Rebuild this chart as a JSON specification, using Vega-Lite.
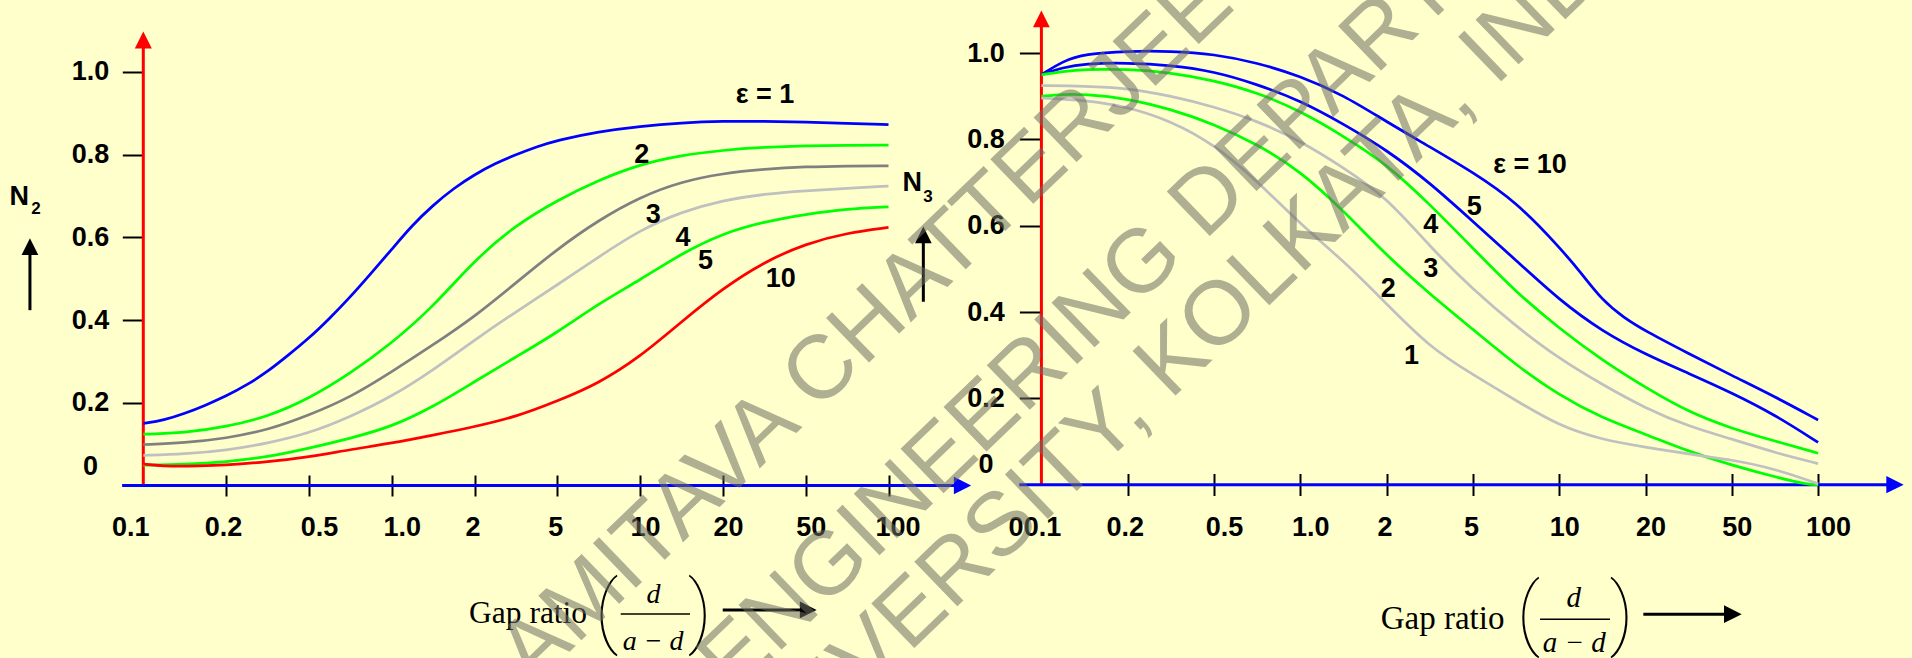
{
  "$schema": "https://vega.github.io/schema/vega-lite/v6.json",
  "width": 1912,
  "height": 658,
  "autosize": {"type": "none"},
  "padding": 0,
  "background": "#FFFFCC",
  "config": {"view": {"stroke": null}, "text": {"font": "Liberation Sans"}},
  "data": {"values": [{}]},
  "datasets": {
    "n2": [
      {"eps":"1","pos":0,"N2":0.150},{"eps":"1","pos":0.25,"N2":0.158},{"eps":"1","pos":0.5,"N2":0.174},{"eps":"1","pos":0.75,"N2":0.194},{"eps":"1","pos":1,"N2":0.216},{"eps":"1","pos":1.25,"N2":0.243},{"eps":"1","pos":1.5,"N2":0.275},{"eps":"1","pos":1.75,"N2":0.315},{"eps":"1","pos":2,"N2":0.356},{"eps":"1","pos":2.25,"N2":0.404},{"eps":"1","pos":2.5,"N2":0.456},{"eps":"1","pos":2.75,"N2":0.513},{"eps":"1","pos":3,"N2":0.571},{"eps":"1","pos":3.25,"N2":0.630},{"eps":"1","pos":3.5,"N2":0.678},{"eps":"1","pos":3.75,"N2":0.719},{"eps":"1","pos":4,"N2":0.752},{"eps":"1","pos":4.25,"N2":0.779},{"eps":"1","pos":4.5,"N2":0.800},{"eps":"1","pos":4.75,"N2":0.819},{"eps":"1","pos":5,"N2":0.835},{"eps":"1","pos":5.5,"N2":0.856},{"eps":"1","pos":6,"N2":0.869},{"eps":"1","pos":6.5,"N2":0.877},{"eps":"1","pos":7,"N2":0.881},{"eps":"1","pos":7.5,"N2":0.881},{"eps":"1","pos":8,"N2":0.879},{"eps":"1","pos":8.5,"N2":0.876},{"eps":"1","pos":9,"N2":0.873},
      {"eps":"2","pos":0,"N2":0.124},{"eps":"2","pos":0.5,"N2":0.127},{"eps":"2","pos":1,"N2":0.142},{"eps":"2","pos":1.5,"N2":0.166},{"eps":"2","pos":2,"N2":0.210},{"eps":"2","pos":2.5,"N2":0.271},{"eps":"2","pos":3,"N2":0.344},{"eps":"2","pos":3.5,"N2":0.432},{"eps":"2","pos":4,"N2":0.545},{"eps":"2","pos":4.5,"N2":0.630},{"eps":"2","pos":5,"N2":0.690},{"eps":"2","pos":5.5,"N2":0.739},{"eps":"2","pos":6,"N2":0.777},{"eps":"2","pos":6.5,"N2":0.799},{"eps":"2","pos":7,"N2":0.811},{"eps":"2","pos":7.5,"N2":0.818},{"eps":"2","pos":8,"N2":0.822},{"eps":"2","pos":8.5,"N2":0.823},{"eps":"2","pos":9,"N2":0.823},
      {"eps":"3","pos":0,"N2":0.099},{"eps":"3","pos":0.5,"N2":0.103},{"eps":"3","pos":1,"N2":0.114},{"eps":"3","pos":1.5,"N2":0.134},{"eps":"3","pos":2,"N2":0.170},{"eps":"3","pos":2.5,"N2":0.213},{"eps":"3","pos":3,"N2":0.275},{"eps":"3","pos":3.5,"N2":0.340},{"eps":"3","pos":4,"N2":0.408},{"eps":"3","pos":4.5,"N2":0.490},{"eps":"3","pos":5,"N2":0.572},{"eps":"3","pos":5.5,"N2":0.642},{"eps":"3","pos":6,"N2":0.698},{"eps":"3","pos":6.5,"N2":0.735},{"eps":"3","pos":7,"N2":0.755},{"eps":"3","pos":7.5,"N2":0.765},{"eps":"3","pos":8,"N2":0.771},{"eps":"3","pos":8.5,"N2":0.773},{"eps":"3","pos":9,"N2":0.773},
      {"eps":"4","pos":0,"N2":0.073},{"eps":"4","pos":0.5,"N2":0.076},{"eps":"4","pos":1,"N2":0.085},{"eps":"4","pos":1.5,"N2":0.102},{"eps":"4","pos":2,"N2":0.126},{"eps":"4","pos":2.5,"N2":0.166},{"eps":"4","pos":3,"N2":0.215},{"eps":"4","pos":3.5,"N2":0.279},{"eps":"4","pos":4,"N2":0.352},{"eps":"4","pos":4.5,"N2":0.420},{"eps":"4","pos":5,"N2":0.485},{"eps":"4","pos":5.5,"N2":0.553},{"eps":"4","pos":6,"N2":0.618},{"eps":"4","pos":6.5,"N2":0.662},{"eps":"4","pos":7,"N2":0.690},{"eps":"4","pos":7.5,"N2":0.705},{"eps":"4","pos":8,"N2":0.713},{"eps":"4","pos":8.5,"N2":0.719},{"eps":"4","pos":9,"N2":0.724},
      {"eps":"5","pos":0,"N2":0.049},{"eps":"5","pos":0.5,"N2":0.051},{"eps":"5","pos":1,"N2":0.057},{"eps":"5","pos":1.5,"N2":0.069},{"eps":"5","pos":2,"N2":0.090},{"eps":"5","pos":2.5,"N2":0.114},{"eps":"5","pos":3,"N2":0.142},{"eps":"5","pos":3.5,"N2":0.190},{"eps":"5","pos":4,"N2":0.251},{"eps":"5","pos":4.5,"N2":0.311},{"eps":"5","pos":5,"N2":0.370},{"eps":"5","pos":5.5,"N2":0.440},{"eps":"5","pos":6,"N2":0.497},{"eps":"5","pos":6.5,"N2":0.561},{"eps":"5","pos":7,"N2":0.610},{"eps":"5","pos":7.5,"N2":0.638},{"eps":"5","pos":8,"N2":0.656},{"eps":"5","pos":8.5,"N2":0.669},{"eps":"5","pos":9,"N2":0.674},
      {"eps":"10","pos":0,"N2":0.052},{"eps":"10","pos":0.25,"N2":0.047},{"eps":"10","pos":0.5,"N2":0.046},{"eps":"10","pos":1,"N2":0.049},{"eps":"10","pos":1.5,"N2":0.057},{"eps":"10","pos":2,"N2":0.069},{"eps":"10","pos":2.5,"N2":0.087},{"eps":"10","pos":3,"N2":0.102},{"eps":"10","pos":3.5,"N2":0.122},{"eps":"10","pos":4,"N2":0.142},{"eps":"10","pos":4.5,"N2":0.166},{"eps":"10","pos":5,"N2":0.204},{"eps":"10","pos":5.5,"N2":0.247},{"eps":"10","pos":6,"N2":0.311},{"eps":"10","pos":6.5,"N2":0.396},{"eps":"10","pos":7,"N2":0.477},{"eps":"10","pos":7.5,"N2":0.541},{"eps":"10","pos":8,"N2":0.585},{"eps":"10","pos":8.5,"N2":0.611},{"eps":"10","pos":9,"N2":0.624}
    ],
    "n3": [
      {"eps":"10","pos":0,"N3":0.950},{"eps":"10","pos":0.25,"N3":0.982},{"eps":"10","pos":0.5,"N3":0.998},{"eps":"10","pos":1,"N3":1.005},{"eps":"10","pos":1.5,"N3":1.005},{"eps":"10","pos":2,"N3":0.998},{"eps":"10","pos":2.5,"N3":0.978},{"eps":"10","pos":3,"N3":0.947},{"eps":"10","pos":3.5,"N3":0.903},{"eps":"10","pos":4,"N3":0.841},{"eps":"10","pos":4.5,"N3":0.783},{"eps":"10","pos":5,"N3":0.724},{"eps":"10","pos":5.5,"N3":0.656},{"eps":"10","pos":6,"N3":0.551},{"eps":"10","pos":6.25,"N3":0.492},{"eps":"10","pos":6.5,"N3":0.427},{"eps":"10","pos":6.75,"N3":0.387},{"eps":"10","pos":7,"N3":0.356},{"eps":"10","pos":7.5,"N3":0.304},{"eps":"10","pos":8,"N3":0.253},{"eps":"10","pos":8.5,"N3":0.204},{"eps":"10","pos":9,"N3":0.150},
      {"eps":"5","pos":0,"N3":0.950},{"eps":"5","pos":0.25,"N3":0.967},{"eps":"5","pos":0.5,"N3":0.976},{"eps":"5","pos":1,"N3":0.978},{"eps":"5","pos":1.5,"N3":0.972},{"eps":"5","pos":2,"N3":0.958},{"eps":"5","pos":2.5,"N3":0.928},{"eps":"5","pos":3,"N3":0.890},{"eps":"5","pos":3.5,"N3":0.836},{"eps":"5","pos":4,"N3":0.776},{"eps":"5","pos":4.5,"N3":0.700},{"eps":"5","pos":5,"N3":0.610},{"eps":"5","pos":5.5,"N3":0.520},{"eps":"5","pos":6,"N3":0.428},{"eps":"5","pos":6.5,"N3":0.355},{"eps":"5","pos":7,"N3":0.302},{"eps":"5","pos":7.5,"N3":0.258},{"eps":"5","pos":8,"N3":0.213},{"eps":"5","pos":8.5,"N3":0.162},{"eps":"5","pos":9,"N3":0.098},
      {"eps":"4","pos":0,"N3":0.950},{"eps":"4","pos":0.25,"N3":0.958},{"eps":"4","pos":0.5,"N3":0.963},{"eps":"4","pos":1,"N3":0.963},{"eps":"4","pos":1.5,"N3":0.955},{"eps":"4","pos":2,"N3":0.937},{"eps":"4","pos":2.5,"N3":0.909},{"eps":"4","pos":3,"N3":0.866},{"eps":"4","pos":3.5,"N3":0.808},{"eps":"4","pos":4,"N3":0.743},{"eps":"4","pos":4.5,"N3":0.650},{"eps":"4","pos":5,"N3":0.548},{"eps":"4","pos":5.5,"N3":0.446},{"eps":"4","pos":6,"N3":0.362},{"eps":"4","pos":6.5,"N3":0.288},{"eps":"4","pos":7,"N3":0.225},{"eps":"4","pos":7.5,"N3":0.168},{"eps":"4","pos":8,"N3":0.130},{"eps":"4","pos":8.5,"N3":0.101},{"eps":"4","pos":9,"N3":0.073},
      {"eps":"3","pos":0,"N3":0.925},{"eps":"3","pos":0.5,"N3":0.924},{"eps":"3","pos":1,"N3":0.919},{"eps":"3","pos":1.5,"N3":0.901},{"eps":"3","pos":2,"N3":0.876},{"eps":"3","pos":2.5,"N3":0.843},{"eps":"3","pos":3,"N3":0.797},{"eps":"3","pos":3.5,"N3":0.735},{"eps":"3","pos":4,"N3":0.666},{"eps":"3","pos":4.5,"N3":0.552},{"eps":"3","pos":5,"N3":0.452},{"eps":"3","pos":5.5,"N3":0.367},{"eps":"3","pos":6,"N3":0.292},{"eps":"3","pos":6.5,"N3":0.232},{"eps":"3","pos":7,"N3":0.177},{"eps":"3","pos":7.5,"N3":0.135},{"eps":"3","pos":8,"N3":0.106},{"eps":"3","pos":8.5,"N3":0.074},{"eps":"3","pos":9,"N3":0.049},
      {"eps":"2","pos":0,"N3":0.900},{"eps":"2","pos":0.25,"N3":0.905},{"eps":"2","pos":0.5,"N3":0.905},{"eps":"2","pos":1,"N3":0.895},{"eps":"2","pos":1.5,"N3":0.870},{"eps":"2","pos":2,"N3":0.836},{"eps":"2","pos":2.5,"N3":0.789},{"eps":"2","pos":3,"N3":0.727},{"eps":"2","pos":3.5,"N3":0.635},{"eps":"2","pos":4,"N3":0.531},{"eps":"2","pos":4.5,"N3":0.442},{"eps":"2","pos":5,"N3":0.360},{"eps":"2","pos":5.5,"N3":0.277},{"eps":"2","pos":6,"N3":0.207},{"eps":"2","pos":6.5,"N3":0.154},{"eps":"2","pos":7,"N3":0.117},{"eps":"2","pos":7.5,"N3":0.077},{"eps":"2","pos":8,"N3":0.045},{"eps":"2","pos":8.5,"N3":0.018},{"eps":"2","pos":8.88,"N3":0.0},{"eps":"2","pos":9,"N3":0.0},
      {"eps":"1","pos":0,"N3":0.896},{"eps":"1","pos":0.5,"N3":0.891},{"eps":"1","pos":1,"N3":0.876},{"eps":"1","pos":1.5,"N3":0.843},{"eps":"1","pos":2,"N3":0.789},{"eps":"1","pos":2.5,"N3":0.704},{"eps":"1","pos":3,"N3":0.604},{"eps":"1","pos":3.5,"N3":0.519},{"eps":"1","pos":4,"N3":0.419},{"eps":"1","pos":4.5,"N3":0.318},{"eps":"1","pos":5,"N3":0.255},{"eps":"1","pos":5.5,"N3":0.195},{"eps":"1","pos":6,"N3":0.136},{"eps":"1","pos":6.5,"N3":0.104},{"eps":"1","pos":7,"N3":0.087},{"eps":"1","pos":7.5,"N3":0.071},{"eps":"1","pos":8,"N3":0.058},{"eps":"1","pos":8.5,"N3":0.037},{"eps":"1","pos":9,"N3":0.002}
    ],
    "lab2": [
      {"t":"ε = 1","pos":7.508,"N2":0.924},{"t":"2","pos":6.019,"N2":0.779},{"t":"3","pos":6.159,"N2":0.634},{"t":"4","pos":6.518,"N2":0.580},{"t":"5","pos":6.790,"N2":0.523},{"t":"10","pos":7.699,"N2":0.481}
    ],
    "lab3": [
      {"t":"ε = 10","pos":5.662,"N3":0.7217},{"t":"5","pos":5.015,"N3":0.625},{"t":"4","pos":4.512,"N3":0.5826},{"t":"3","pos":4.512,"N3":0.482},{"t":"2","pos":4.019,"N3":0.4357},{"t":"1","pos":4.289,"N3":0.2797}
    ],
    "wm": [
      {"t":"AMITAVA CHATTERJEE","pos":8.728,"N2":0.381},
      {"t":"ENGINEERING DEPARTMENT","pos":12.4,"N2":0.601},
      {"t":"UNIVERSITY, KOLKATA, INDIA","pos":12.67,"N2":0.347}
    ]
  },
  "layer": [
    {
      "layer": [
        {
          "mark": {"type": "rule", "color": "#FF0000", "strokeWidth": 3},
          "encoding": {
            "x": {"datum": 0, "type": "quantitative", "scale": {"domain": [-1.73068, 21.3611], "nice": false, "zero": false},
              "axis": {"orient": "bottom", "offset": -183, "values": [0,1,2,3,4,5,6,7,8,9], "title": null, "grid": false, "domain": false,
                "labelExpr": "['0.1','0.2','0.5','1.0','2','5','10','20','50','100'][datum.value]",
                "tickSize": 21, "tickWidth": 2, "tickColor": "#000000",
                "tickOpacity": {"condition": {"test": "datum.value == 0", "value": 0}, "value": 1},
                "labelFont": "Liberation Sans", "labelFontWeight": "bold", "labelFontSize": 27, "labelColor": "#000000",
                "labelBaseline": "alphabetic", "labelPadding": 39, "labelOverlap": false, "labelFlush": false, "labelBound": false,
                "labelOffset": {"condition": [{"test": "datum.value == 0", "value": -13}, {"test": "datum.value == 1", "value": -3}, {"test": "datum.value == 2 || datum.value == 3", "value": 10}, {"test": "datum.value == 4 || datum.value == 5", "value": -2}, {"test": "datum.value == 9", "value": 9}], "value": 5}
              }},
            "y": {"datum": 0, "type": "quantitative", "scale": {"domain": [-0.41717, 1.17412], "nice": false, "zero": false},
              "axis": {"orient": "left", "offset": -143.3, "values": [0.2,0.4,0.6,0.8,1.0], "format": ".1f", "title": null, "grid": false, "domain": false,
                "tickSize": 21, "tickWidth": 2, "tickColor": "#000000",
                "labelFont": "Liberation Sans", "labelFontWeight": "bold", "labelFontSize": 27, "labelColor": "#000000",
                "labelBaseline": "middle", "labelPadding": 13.5, "labelOverlap": false, "labelFlush": false, "labelBound": false
              }},
            "y2": {"datum": 1.06}
          }
        },
        {
          "mark": {"type": "point", "shape": "M0,-1L-1,1L1,1Z", "size": 289, "filled": true, "color": "#FF0000", "opacity": 1, "strokeWidth": 0},
          "encoding": {"x": {"datum": 0, "type": "quantitative"}, "y": {"datum": 1.0774, "type": "quantitative"}}
        },
        {
          "mark": {"type": "rule", "color": "#0000FF", "strokeWidth": 3},
          "encoding": {"x": {"datum": -0.256, "type": "quantitative"}, "x2": {"datum": 9.8}, "y": {"datum": 0, "type": "quantitative"}}
        },
        {
          "mark": {"type": "point", "shape": "M1,0L-1,-1L-1,1Z", "size": 300, "filled": true, "color": "#0000FF", "opacity": 1, "strokeWidth": 0},
          "encoding": {"x": {"datum": 9.894, "type": "quantitative"}, "y": {"datum": 0, "type": "quantitative"}}
        },
        {
          "data": {"name": "n2"},
          "mark": {"type": "line", "interpolate": "basis", "strokeWidth": 2.75},
          "encoding": {
            "x": {"field": "pos", "type": "quantitative"},
            "y": {"field": "N2", "type": "quantitative"},
            "color": {"field": "eps", "type": "nominal", "legend": null,
              "scale": {"domain": ["1","2","3","4","5","10"], "range": ["#0000FF","#00FF00","#808080","#C0C0C0","#00FF00","#FF0000"]}}
          }
        },
        {
          "data": {"name": "lab2"},
          "mark": {"type": "text", "font": "Liberation Sans", "fontWeight": "bold", "fontSize": 27, "align": "center", "baseline": "alphabetic", "color": "#000000"},
          "encoding": {"x": {"field": "pos", "type": "quantitative"}, "y": {"field": "N2", "type": "quantitative"}, "text": {"field": "t"}}
        },
        {
          "mark": {"type": "text", "font": "Liberation Sans", "fontWeight": "bold", "fontSize": 27, "align": "center", "baseline": "alphabetic", "color": "#000000"},
          "encoding": {"x": {"datum": -0.638, "type": "quantitative"}, "y": {"datum": 0.0254, "type": "quantitative"}, "text": {"value": "0"}}
        },
        {
          "mark": {"type": "text", "font": "Liberation Sans", "fontWeight": "bold", "fontSize": 27, "align": "center", "baseline": "alphabetic", "color": "#000000"},
          "encoding": {"x": {"datum": -1.499, "type": "quantitative"}, "y": {"datum": 0.678, "type": "quantitative"}, "text": {"value": "N"}}
        },
        {
          "mark": {"type": "text", "font": "Liberation Sans", "fontWeight": "bold", "fontSize": 17, "align": "center", "baseline": "alphabetic", "color": "#000000"},
          "encoding": {"x": {"datum": -1.297, "type": "quantitative"}, "y": {"datum": 0.656, "type": "quantitative"}, "text": {"value": "2"}}
        },
        {
          "mark": {"type": "rule", "color": "#000000", "strokeWidth": 3},
          "encoding": {"x": {"datum": -1.369, "type": "quantitative"}, "y": {"datum": 0.424, "type": "quantitative"}, "y2": {"datum": 0.56}}
        },
        {
          "mark": {"type": "point", "shape": "M0,-1L-1,1L1,1Z", "size": 280, "filled": true, "color": "#000000", "opacity": 1, "strokeWidth": 0},
          "encoding": {"x": {"datum": -1.369, "type": "quantitative"}, "y": {"datum": 0.5775, "type": "quantitative"}}
        },
        {
          "mark": {"type": "text", "font": "Liberation Serif", "fontSize": 31.5, "align": "left", "baseline": "alphabetic", "color": "#000000"},
          "encoding": {"x": {"datum": 3.934, "type": "quantitative"}, "y": {"datum": -0.3333, "type": "quantitative"}, "text": {"value": "Gap ratio"}}
        },
        {
          "mark": {"type": "text", "font": "Roboto", "fontWeight": 100, "fontSize": 80, "align": "center", "baseline": "middle", "color": "#000000"},
          "encoding": {"x": {"datum": 5.597, "type": "quantitative"}, "y": {"datum": -0.311, "type": "quantitative"}, "text": {"value": "("}}
        },
        {
          "mark": {"type": "text", "font": "Roboto", "fontWeight": 100, "fontSize": 80, "align": "center", "baseline": "middle", "color": "#000000"},
          "encoding": {"x": {"datum": 6.723, "type": "quantitative"}, "y": {"datum": -0.311, "type": "quantitative"}, "text": {"value": ")"}}
        },
        {
          "mark": {"type": "text", "font": "Liberation Serif", "fontStyle": "italic", "fontSize": 28, "align": "center", "baseline": "alphabetic", "color": "#000000"},
          "encoding": {"x": {"datum": 6.161, "type": "quantitative"}, "y": {"datum": -0.284, "type": "quantitative"}, "text": {"value": "d"}}
        },
        {
          "mark": {"type": "rule", "color": "#000000", "strokeWidth": 1.5},
          "encoding": {"x": {"datum": 5.766, "type": "quantitative"}, "x2": {"datum": 6.603}, "y": {"datum": -0.311, "type": "quantitative"}}
        },
        {
          "mark": {"type": "text", "font": "Liberation Serif", "fontStyle": "italic", "fontSize": 28, "align": "center", "baseline": "alphabetic", "color": "#000000"},
          "encoding": {"x": {"datum": 6.157, "type": "quantitative"}, "y": {"datum": -0.398, "type": "quantitative"}, "text": {"value": "a − d"}}
        },
        {
          "mark": {"type": "rule", "color": "#000000", "strokeWidth": 3},
          "encoding": {"x": {"datum": 6.998, "type": "quantitative"}, "x2": {"datum": 7.95}, "y": {"datum": -0.301, "type": "quantitative"}}
        },
        {
          "mark": {"type": "point", "shape": "M1,0L-1,-1L-1,1Z", "size": 280, "filled": true, "color": "#000000", "opacity": 1, "strokeWidth": 0},
          "encoding": {"x": {"datum": 8.031, "type": "quantitative"}, "y": {"datum": -0.301, "type": "quantitative"}}
        }
      ]
    },
    {
      "layer": [
        {
          "mark": {"type": "rule", "color": "#FF0000", "strokeWidth": 3},
          "encoding": {
            "x": {"datum": 0, "type": "quantitative", "scale": {"domain": [-12.0672, 10.0880], "nice": false, "zero": false},
              "axis": {"orient": "bottom", "offset": -184.5, "values": [0,1,2,3,4,5,6,7,8,9], "title": null, "grid": false, "domain": false,
                "labelExpr": "['00.1','0.2','0.5','1.0','2','5','10','20','50','100'][datum.value]",
                "tickSize": 22, "tickWidth": 2, "tickColor": "#000000",
                "tickOpacity": {"condition": {"test": "datum.value == 0", "value": 0}, "value": 1},
                "labelFont": "Liberation Sans", "labelFontWeight": "bold", "labelFontSize": 27, "labelColor": "#000000",
                "labelBaseline": "alphabetic", "labelPadding": 40, "labelOverlap": false, "labelFlush": false, "labelBound": false,
                "labelOffset": {"condition": [{"test": "datum.value == 0", "value": -7}, {"test": "datum.value == 1", "value": -3}, {"test": "datum.value == 2 || datum.value == 3", "value": 10}, {"test": "datum.value == 4 || datum.value == 5", "value": -2}, {"test": "datum.value == 9", "value": 10}], "value": 5}
              }},
            "y": {"datum": 0, "type": "quantitative", "scale": {"domain": [-0.40162, 1.12329], "nice": false, "zero": false},
              "axis": {"orient": "left", "offset": -1041.4, "values": [0.2,0.4,0.6,0.8,1.0], "format": ".1f", "title": null, "grid": false, "domain": false,
                "tickSize": 22, "tickWidth": 2, "tickColor": "#000000",
                "labelFont": "Liberation Sans", "labelFontWeight": "bold", "labelFontSize": 27, "labelColor": "#000000",
                "labelBaseline": "middle", "labelPadding": 15, "labelOverlap": false, "labelFlush": false, "labelBound": false
              }},
            "y2": {"datum": 1.061}
          }
        },
        {
          "mark": {"type": "point", "shape": "M0,-1L-1,1L1,1Z", "size": 280, "filled": true, "color": "#FF0000", "opacity": 1, "strokeWidth": 0},
          "encoding": {"x": {"datum": 0, "type": "quantitative"}, "y": {"datum": 1.0798, "type": "quantitative"}}
        },
        {
          "mark": {"type": "rule", "color": "#0000FF", "strokeWidth": 3},
          "encoding": {"x": {"datum": -0.256, "type": "quantitative"}, "x2": {"datum": 9.8}, "y": {"datum": 0, "type": "quantitative"}}
        },
        {
          "mark": {"type": "point", "shape": "M1,0L-1,-1L-1,1Z", "size": 300, "filled": true, "color": "#0000FF", "opacity": 1, "strokeWidth": 0},
          "encoding": {"x": {"datum": 9.891, "type": "quantitative"}, "y": {"datum": 0, "type": "quantitative"}}
        },
        {
          "data": {"name": "n3"},
          "mark": {"type": "line", "interpolate": "basis", "strokeWidth": 2.75},
          "encoding": {
            "x": {"field": "pos", "type": "quantitative"},
            "y": {"field": "N3", "type": "quantitative"},
            "color": {"field": "eps", "type": "nominal", "legend": null,
              "scale": {"domain": ["10","5","4","3","2","1"], "range": ["#0000FF","#0000FF","#00FF00","#C0C0C0","#00FF00","#C0C0C0"]}}
          }
        },
        {
          "data": {"name": "lab3"},
          "mark": {"type": "text", "font": "Liberation Sans", "fontWeight": "bold", "fontSize": 27, "align": "center", "baseline": "alphabetic", "color": "#000000"},
          "encoding": {"x": {"field": "pos", "type": "quantitative"}, "y": {"field": "N3", "type": "quantitative"}, "text": {"field": "t"}}
        },
        {
          "mark": {"type": "text", "font": "Liberation Sans", "fontWeight": "bold", "fontSize": 27, "align": "center", "baseline": "alphabetic", "color": "#000000"},
          "encoding": {"x": {"datum": -0.642, "type": "quantitative"}, "y": {"datum": 0.0267, "type": "quantitative"}, "text": {"value": "0"}}
        },
        {
          "mark": {"type": "text", "font": "Liberation Sans", "fontWeight": "bold", "fontSize": 27, "align": "center", "baseline": "alphabetic", "color": "#000000"},
          "encoding": {"x": {"datum": -1.497, "type": "quantitative"}, "y": {"datum": 0.681, "type": "quantitative"}, "text": {"value": "N"}}
        },
        {
          "mark": {"type": "text", "font": "Liberation Sans", "fontWeight": "bold", "fontSize": 17, "align": "center", "baseline": "alphabetic", "color": "#000000"},
          "encoding": {"x": {"datum": -1.314, "type": "quantitative"}, "y": {"datum": 0.656, "type": "quantitative"}, "text": {"value": "3"}}
        },
        {
          "mark": {"type": "rule", "color": "#000000", "strokeWidth": 3},
          "encoding": {"x": {"datum": -1.368, "type": "quantitative"}, "y": {"datum": 0.424, "type": "quantitative"}, "y2": {"datum": 0.56}}
        },
        {
          "mark": {"type": "point", "shape": "M0,-1L-1,1L1,1Z", "size": 280, "filled": true, "color": "#000000", "opacity": 1, "strokeWidth": 0},
          "encoding": {"x": {"datum": -1.368, "type": "quantitative"}, "y": {"datum": 0.5787, "type": "quantitative"}}
        },
        {
          "mark": {"type": "text", "font": "Liberation Serif", "fontSize": 33, "align": "left", "baseline": "alphabetic", "color": "#000000"},
          "encoding": {"x": {"datum": 3.932, "type": "quantitative"}, "y": {"datum": -0.3351, "type": "quantitative"}, "text": {"value": "Gap ratio"}}
        },
        {
          "mark": {"type": "text", "font": "Roboto", "fontWeight": 100, "fontSize": 80, "align": "center", "baseline": "middle", "color": "#000000"},
          "encoding": {"x": {"datum": 5.642, "type": "quantitative"}, "y": {"datum": -0.305, "type": "quantitative"}, "text": {"value": "("}}
        },
        {
          "mark": {"type": "text", "font": "Roboto", "fontWeight": 100, "fontSize": 80, "align": "center", "baseline": "middle", "color": "#000000"},
          "encoding": {"x": {"datum": 6.724, "type": "quantitative"}, "y": {"datum": -0.305, "type": "quantitative"}, "text": {"value": ")"}}
        },
        {
          "mark": {"type": "text", "font": "Liberation Serif", "fontStyle": "italic", "fontSize": 29, "align": "center", "baseline": "alphabetic", "color": "#000000"},
          "encoding": {"x": {"datum": 6.168, "type": "quantitative"}, "y": {"datum": -0.283, "type": "quantitative"}, "text": {"value": "d"}}
        },
        {
          "mark": {"type": "rule", "color": "#000000", "strokeWidth": 1.5},
          "encoding": {"x": {"datum": 5.778, "type": "quantitative"}, "x2": {"datum": 6.589}, "y": {"datum": -0.312, "type": "quantitative"}}
        },
        {
          "mark": {"type": "text", "font": "Liberation Serif", "fontStyle": "italic", "fontSize": 29, "align": "center", "baseline": "alphabetic", "color": "#000000"},
          "encoding": {"x": {"datum": 6.174, "type": "quantitative"}, "y": {"datum": -0.388, "type": "quantitative"}, "text": {"value": "a − d"}}
        },
        {
          "mark": {"type": "rule", "color": "#000000", "strokeWidth": 3},
          "encoding": {"x": {"datum": 6.975, "type": "quantitative"}, "x2": {"datum": 7.93}, "y": {"datum": -0.300, "type": "quantitative"}}
        },
        {
          "mark": {"type": "point", "shape": "M1,0L-1,-1L-1,1Z", "size": 313, "filled": true, "color": "#000000", "opacity": 1, "strokeWidth": 0},
          "encoding": {"x": {"datum": 8.012, "type": "quantitative"}, "y": {"datum": -0.300, "type": "quantitative"}}
        }
      ]
    },
    {
      "data": {"name": "wm"},
      "mark": {"type": "text", "font": "Liberation Sans", "fontSize": 90, "angle": -44, "align": "center", "baseline": "middle", "color": "#6E6E61", "opacity": 0.55},
      "encoding": {
        "x": {"field": "pos", "type": "quantitative", "scale": {"domain": [-1.73068, 21.3611], "nice": false, "zero": false}, "axis": null},
        "y": {"field": "N2", "type": "quantitative", "scale": {"domain": [-0.41717, 1.17412], "nice": false, "zero": false}, "axis": null},
        "text": {"field": "t"}
      }
    }
  ],
  "resolve": {
    "scale": {"x": "independent", "y": "independent", "color": "independent"},
    "axis": {"x": "independent", "y": "independent"}
  }
}
